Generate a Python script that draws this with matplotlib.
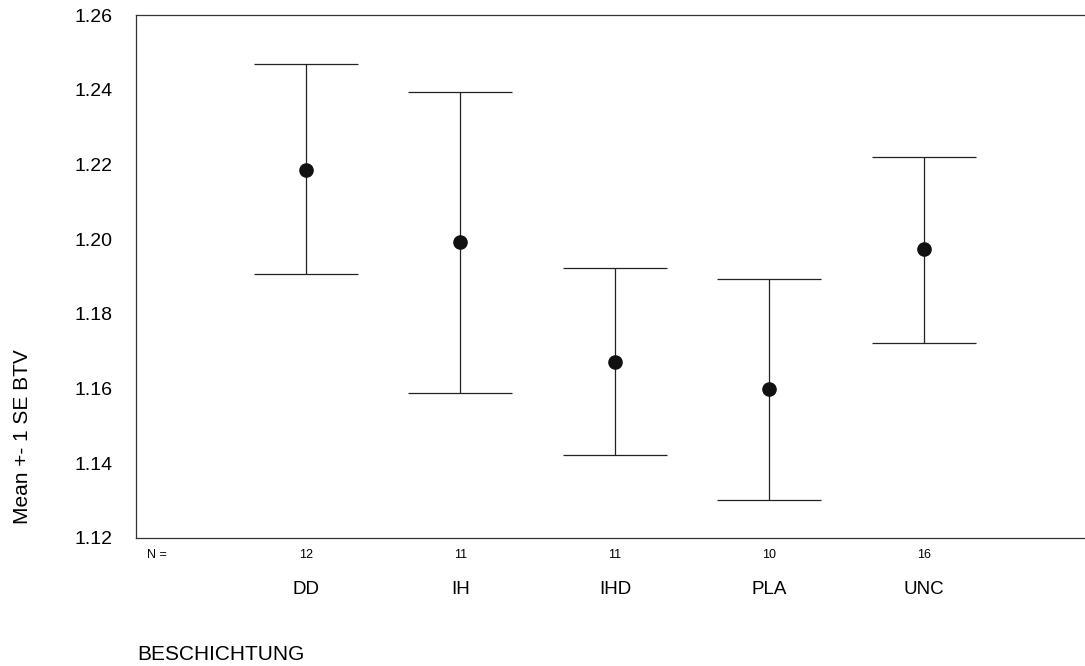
import matplotlib.pyplot as plt

plt.rcParams["font.family"] = ["Liberation Sans", "DejaVu Sans"]

groups = ["DD", "IH", "IHD", "PLA", "UNC"]
n_counts = [12, 11, 11, 10, 16]
means = [1.2185, 1.1992, 1.1671, 1.1599, 1.1974]
upper = [1.2469, 1.2394, 1.1923, 1.1893, 1.2220]
lower = [1.1907, 1.1588, 1.1422, 1.1302, 1.1722]
yticks = [1.12, 1.14, 1.16, 1.18, 1.20, 1.22, 1.24, 1.26]


def main():
    fig = plt.figure(figsize=(10.85, 6.66), dpi=100)
    ax = fig.add_axes([136 / 1085, 1 - 538 / 666, 1 - 136 / 1085, (538 - 15) / 666])

    xs = list(range(len(groups)))
    err_lo = [m - lo for m, lo in zip(means, lower)]
    err_hi = [hi - m for m, hi in zip(means, upper)]
    ax.errorbar(xs, means, yerr=[err_lo, err_hi], fmt="none", ecolor="#222222",
                elinewidth=0.9, capsize=52 * 0.72, capthick=0.9)
    ax.plot(xs, means, "o", color="#111111", markersize=9.5, zorder=3)

    ax.set_xlim(-1.1, 5.042)
    ax.set_ylim(1.12, 1.26)
    ax.set_yticks(yticks)
    ax.set_yticklabels([f"{t:.2f}" for t in yticks], fontsize=14)
    ax.tick_params(axis="y", length=0, pad=17)
    ax.set_xticks([])
    ax.spines["right"].set_visible(False)
    for s in ["left", "top", "bottom"]:
        ax.spines[s].set_linewidth(0.9)
        ax.spines[s].set_color("#333333")

    # N counts and group names below the axis
    ax.text(-1.03, -0.032, "N =", transform=ax.get_xaxis_transform(),
            fontsize=9, ha="left", va="center")
    for x, n, g in zip(xs, n_counts, groups):
        ax.text(x, -0.032, str(n), transform=ax.get_xaxis_transform(),
                fontsize=9, ha="center", va="center")
        ax.text(x, -0.099, g, transform=ax.get_xaxis_transform(),
                fontsize=13.5, ha="center", va="center")

    fig.text(137 / 1085, 1 - 655 / 666, "BESCHICHTUNG", fontsize=15,
             ha="left", va="center")
    fig.text(22 / 1085, 1 - 437 / 666, "Mean +- 1 SE BTV", fontsize=15,
             rotation=90, ha="center", va="center")

    fig.savefig("out.png", dpi=100)


if __name__ == "__main__":
    main()
